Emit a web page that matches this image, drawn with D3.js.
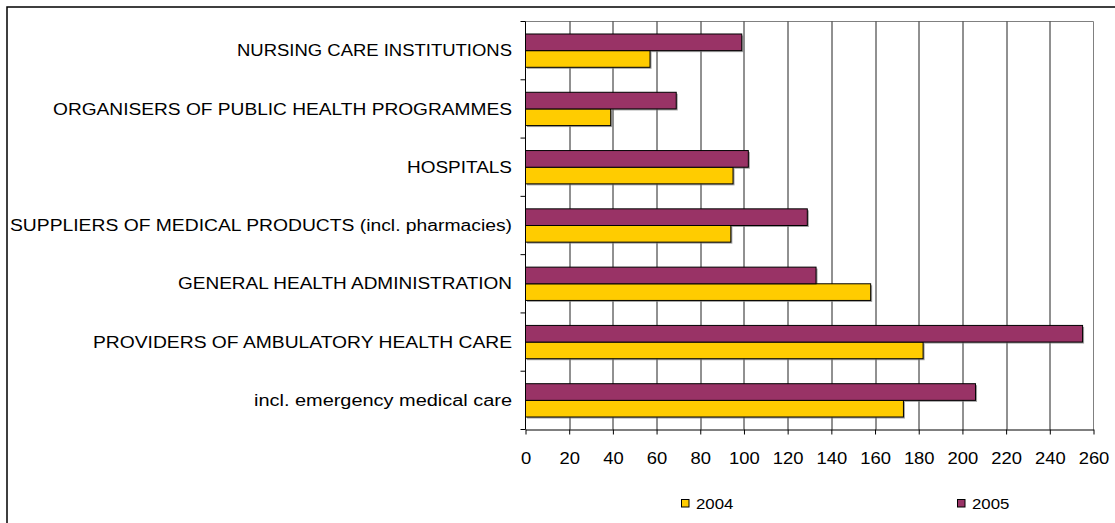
<!DOCTYPE html>
<html>
<head>
<meta charset="utf-8">
<script src="https://cdn.jsdelivr.net/npm/d3@7"></script>
<style>
  body { margin: 0; background: #fff; }
  svg text { font-family: "Liberation Sans", Arial, sans-serif; fill: #000; }
</style>
</head>
<body>
<svg id="chart"></svg>
<script>
var categories = [
  "NURSING CARE INSTITUTIONS",
  "ORGANISERS OF PUBLIC HEALTH PROGRAMMES",
  "HOSPITALS",
  "SUPPLIERS OF MEDICAL PRODUCTS (incl. pharmacies)",
  "GENERAL HEALTH ADMINISTRATION",
  "PROVIDERS OF AMBULATORY HEALTH CARE",
  "incl. emergency medical care"
];
var series = ["2004", "2005"];
var values2004 = [57, 39, 95, 94, 158, 182, 173];
var values2005 = [99, 69, 102, 129, 133, 255, 206];
var xTicks = [0, 20, 40, 60, 80, 100, 120, 140, 160, 180, 200, 220, 240, 260];

var colors = {"2004": "#FFCC00", "2005": "#993366"};
// rendered label widths in the picture (its font runs wider than Arial)
var labelWidths = [275, 459, 105, 502, 334, 419, 258];

var W = 1115, H = 523;
var margin = {top: 21.5, right: 21.5, bottom: 93.5, left: 525.5},
width = W - margin.left - margin.right,
height = H - margin.top - margin.bottom;

var sx = 1.15;

var svg = d3.select("#chart")
  .attr("width", W)
  .attr("height", H);

// outer chart border
svg.append("rect")
  .attr("x", 7).attr("y", 7)
  .attr("width", 1200).attr("height", 600)
  .attr("fill", "none")
  .attr("stroke", "#000")
  .attr("stroke-width", 1.5);

var g = svg.append("g")
  .attr("transform", "translate(" + margin.left + "," + margin.top + ")");

var x = d3.scaleLinear().domain([0, 260]).range([0, width]);
var y = d3.scaleBand().domain(categories).range([0, height]).padding(0);
var ySub = d3.scaleBand().domain(["2005", "2004"]).range([0, y.bandwidth()])
  .paddingInner(0).paddingOuter(0.75);

// plot area border (grey, top and right)
g.append("path")
  .attr("d", "M0,0H" + x(260) + "V" + height)
  .attr("fill", "none")
  .attr("stroke", "#808080")
  .attr("stroke-width", 1);

// vertical gridlines
g.selectAll(".grid")
  .data(xTicks.filter(function(d) { return d > 0 && d < 260; }))
  .enter().append("line")
  .attr("class", "grid")
  .attr("x1", function(d) { return Math.round(x(d)) + 0.5; })
  .attr("x2", function(d) { return Math.round(x(d)) + 0.5; })
  .attr("y1", 0)
  .attr("y2", height)
  .attr("stroke", "#222")
  .attr("stroke-width", 1);

var rows = categories.map(function(c, i) {
  return {cat: c, "2004": values2004[i], "2005": values2005[i]};
});

var bars = [];
rows.forEach(function(r) {
  series.forEach(function(s) {
    bars.push({cat: r.cat, key: s, value: r[s]});
  });
});

// shadows
g.selectAll(".shadow")
  .data(bars)
  .enter().append("rect")
  .attr("class", "shadow")
  .attr("x", 1.5)
  .attr("y", function(d) { return y(d.cat) + ySub(d.key) + 1.5; })
  .attr("width", function(d) { return x(d.value); })
  .attr("height", ySub.bandwidth())
  .attr("fill", "#777")
  .attr("opacity", 0.7);

g.selectAll(".bar")
  .data(bars)
  .enter().append("rect")
  .attr("class", "bar")
  .attr("x", 0)
  .attr("y", function(d) { return y(d.cat) + ySub(d.key); })
  .attr("width", function(d) { return x(d.value); })
  .attr("height", ySub.bandwidth())
  .attr("fill", function(d) { return colors[d.key]; })
  .attr("stroke", "#000")
  .attr("stroke-width", 1);

// x axis
var xaxis = g.append("g")
  .attr("transform", "translate(0," + height + ")")
  .call(d3.axisBottom(x).tickValues(xTicks).tickSizeInner(5).tickSizeOuter(0).tickPadding(18));
xaxis.select(".domain").attr("stroke", "#000");
xaxis.selectAll(".tick line").attr("stroke", "#000");
xaxis.selectAll(".tick text")
  .attr("transform", "scale(" + sx + ",1)")
  .style("font-size", "16px");

// y axis: ticks sit between categories
var yaxis = g.append("g");
yaxis.append("line")
  .attr("x1", 0).attr("x2", 0)
  .attr("y1", 0).attr("y2", height)
  .attr("stroke", "#000");
yaxis.selectAll(".ytick")
  .data(categories.map(function(c) { return y(c); }).concat([height]))
  .enter().append("line")
  .attr("class", "ytick")
  .attr("x1", -5).attr("x2", 0)
  .attr("y1", function(d) { return d; })
  .attr("y2", function(d) { return d; })
  .attr("stroke", "#000");
yaxis.selectAll(".ylabel")
  .data(categories)
  .enter().append("text")
  .attr("class", "ylabel")
  .attr("x", -13.5)
  .attr("y", function(d) { return y(d) + y.bandwidth() / 2; })
  .attr("dy", "0.35em")
  .attr("text-anchor", "end")
  .attr("textLength", function(d, i) { return labelWidths[i]; })
  .attr("lengthAdjust", "spacingAndGlyphs")
  .style("font-size", "16px")
  .text(function(d) { return d; });

// legend
var legendX = {"2004": 681, "2005": 957};
var legend = svg.selectAll(".legend")
  .data(series)
  .enter().append("g")
  .attr("class", "legend")
  .attr("transform", function(d) { return "translate(" + legendX[d] + ",499)"; });
legend.append("rect")
  .attr("x", 0.5).attr("y", 0.5)
  .attr("width", 7.5).attr("height", 7.5)
  .attr("fill", function(d) { return colors[d]; })
  .attr("stroke", "#000");
legend.append("text")
  .attr("transform", "translate(15,10) scale(1.12,1)")
  .style("font-size", "15px")
  .text(function(d) { return d; });
</script>
</body>
</html>
